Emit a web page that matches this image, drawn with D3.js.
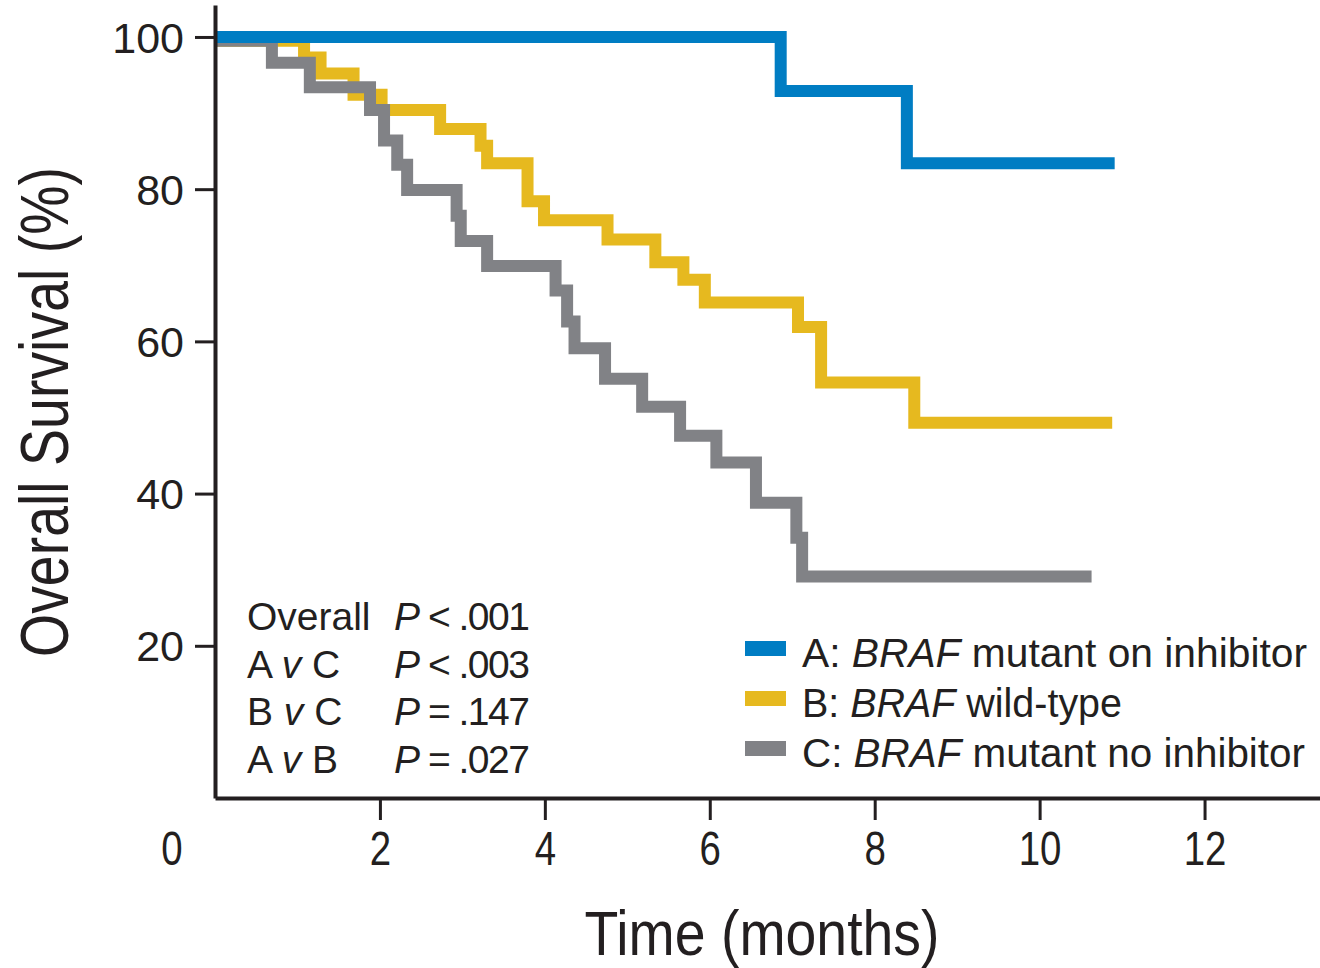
<!DOCTYPE html>
<html>
<head>
<meta charset="utf-8">
<script src="https://cdn.jsdelivr.net/npm/d3@7"></script>
<style>
  html, body { margin: 0; padding: 0; background: #fff; }
  svg { display: block; font-family: "Liberation Sans", Arial, Helvetica, sans-serif; }
</style>
</head>
<body>
<svg id="chart" width="1320" height="968"></svg>
<script>
// ---- Data ----
const seriesNames = ["A", "B", "C"];
const legendLabels = [
  ["A: ", "BRAF", " mutant on inhibitor"],
  ["B: ", "BRAF", " wild-type"],
  ["C: ", "BRAF", " mutant no inhibitor"]
];
const timesA = [0, 6.86, 8.39, 10.91];
const survA  = [100, 92.9, 83.4, 83.4];
const timesB = [0, 1.08, 1.28, 1.68, 2.02, 2.73, 3.22, 3.30, 3.79, 3.99, 4.76, 5.34, 5.68, 5.94, 7.07, 7.35, 8.48, 10.88];
const survB  = [99.5, 97.3, 95.2, 92.4, 90.4, 87.9, 85.7, 83.4, 78.4, 75.9, 73.4, 70.4, 68.1, 65.1, 61.9, 54.6, 49.3, 49.3];
const timesC = [0, 0.69, 1.15, 1.88, 2.05, 2.21, 2.33, 2.93, 2.98, 3.30, 4.13, 4.27, 4.36, 4.73, 5.18, 5.64, 6.08, 6.56, 7.05, 7.12, 10.63];
const survC  = [99.5, 96.6, 93.4, 90.4, 86.4, 83.2, 79.9, 76.5, 73.2, 69.9, 66.7, 62.6, 59.1, 55.1, 51.4, 47.6, 44.1, 38.8, 34.2, 29.1, 29.1];
const xTicks = [2, 4, 6, 8, 10, 12];
const yTicks = [20, 40, 60, 80, 100];
const pLabels = ["Overall", "A v C", "B v C", "A v B"];
const pOps    = ["<", "<", "=", "="];
const pValues = [".001", ".003", ".147", ".027"];

// ---- Styles ----
const colors = { A: "#007DC3", B: "#E6B91F", C: "#818286" };
const ink = "#231F20";
const legendWidths = [505, 320, 503];

const svg = d3.select("#chart");
const x = d3.scaleLinear().domain([0, 13.4]).range([215, 1320]);
const y = d3.scaleLinear().domain([0, 104.2]).range([798, 5]);

// Curves (draw order: B, C, A)
const series = {
  A: d3.zip(timesA, survA),
  B: d3.zip(timesB, survB),
  C: d3.zip(timesC, survC)
};
const line = d3.line().x(d => x(d[0])).y(d => y(d[1])).curve(d3.curveStepAfter);
["B", "C", "A"].forEach(k => {
  svg.append("path")
    .attr("d", line(series[k]))
    .attr("fill", "none")
    .attr("stroke", colors[k])
    .attr("stroke-width", 12)
    .attr("stroke-linecap", "butt")
    .attr("stroke-linejoin", "miter");
});

// Axes
const yAxis = d3.axisLeft(y).tickValues(yTicks).tickSize(20).tickPadding(12).tickSizeOuter(0);
const gy = svg.append("g").attr("transform", `translate(${x(0)},0)`).call(yAxis);
gy.select(".domain").attr("stroke", ink).attr("stroke-width", 4);
gy.selectAll(".tick line").attr("stroke", ink).attr("stroke-width", 3);
gy.selectAll(".tick text")
  .attr("fill", ink).attr("font-size", 43)
  .attr("font-family", "Liberation Sans, Arial, sans-serif")
  .attr("x", -31).attr("dy", "0.35em");

const xAxis = d3.axisBottom(x).tickValues(xTicks).tickSize(22).tickSizeOuter(0);
const gx = svg.append("g").attr("transform", `translate(0,${y(0)})`).call(xAxis);
gx.select(".domain").attr("stroke", ink).attr("stroke-width", 4);
gx.selectAll(".tick line").attr("stroke", ink).attr("stroke-width", 3);
gx.selectAll(".tick text")
  .attr("fill", ink).attr("font-size", 48)
  .attr("font-family", "Liberation Sans, Arial, sans-serif")
  .attr("y", 67).attr("dy", null)
  .attr("transform", "scale(0.8,1)");

// Corner "0" label
svg.append("text")
  .attr("x", (x(0) - 43) / 0.8).attr("y", y(0) + 67)
  .attr("transform", "scale(0.8,1)")
  .attr("text-anchor", "middle").attr("font-size", 48).attr("fill", ink)
  .text("0");

// Axis titles
svg.append("text")
  .attr("x", 762).attr("y", 955)
  .attr("text-anchor", "middle").attr("font-size", 63).attr("fill", ink)
  .attr("textLength", 355).attr("lengthAdjust", "spacingAndGlyphs")
  .text("Time (months)");

svg.append("text")
  .attr("transform", "translate(68,412) rotate(-90)")
  .attr("text-anchor", "middle").attr("font-size", 68).attr("fill", ink)
  .attr("textLength", 490).attr("lengthAdjust", "spacingAndGlyphs")
  .text("Overall Survival (%)");

// P-value block
const pRows = svg.append("g");
pLabels.forEach((lab, i) => {
  const by = 630 + i * 47.5;
  const t = pRows.append("text").attr("x", 247).attr("y", by)
    .attr("font-size", 39).attr("fill", ink);
  const parts = lab.split(" ");
  if (parts.length === 3) {
    t.append("tspan").text(parts[0] + " ");
    t.append("tspan").attr("font-style", "italic").text(parts[1]);
    t.append("tspan").text(" " + parts[2]);
  } else {
    t.text(lab);
  }
  const t2 = pRows.append("text").attr("x", 394).attr("y", by)
    .attr("font-size", 39).attr("fill", ink)
    .attr("textLength", 136).attr("lengthAdjust", "spacing");
  t2.append("tspan").attr("font-style", "italic").text("P");
  t2.append("tspan").text(" " + pOps[i] + " " + pValues[i]);
});

// Legend
const leg = svg.append("g");
seriesNames.forEach((k, i) => {
  const by = 667 + i * 50;
  leg.append("rect").attr("x", 745).attr("y", by - 26).attr("width", 41).attr("height", 15)
    .attr("fill", colors[k]);
  const t = leg.append("text").attr("x", 802).attr("y", by).attr("font-size", 40).attr("fill", ink)
    .attr("textLength", legendWidths[i]).attr("lengthAdjust", "spacingAndGlyphs");
  t.append("tspan").text(legendLabels[i][0]);
  t.append("tspan").attr("font-style", "italic").text(legendLabels[i][1]);
  t.append("tspan").text(legendLabels[i][2]);
});
</script>
</body>
</html>
